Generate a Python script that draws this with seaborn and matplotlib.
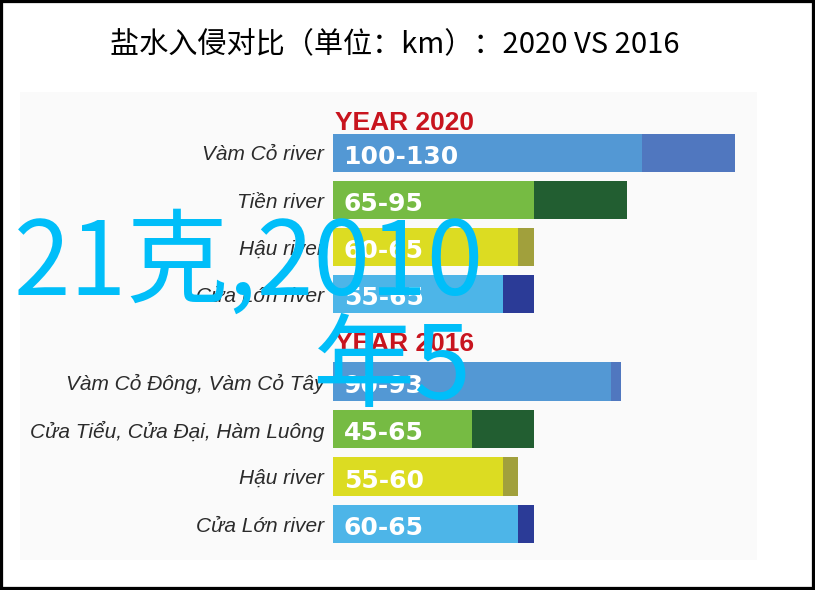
import pandas as pd
import matplotlib.pyplot as plt
import seaborn as sns
from matplotlib.patches import Rectangle

TITLE = "盐水入侵对比（单位：km）：2020 VS 2016"
OVERLAY = ["21克,2010", "年5"]

# salt intrusion range (km), 2020
rivers_2020 = ["Vàm Cỏ river", "Tiền river", "Hậu river", "Cửa Lớn river"]
low_2020 = [100, 65, 60, 55]
high_2020 = [130, 95, 65, 65]

# salt intrusion range (km), 2016
rivers_2016 = ["Vàm Cỏ Đông, Vàm Cỏ Tây", "Cửa Tiểu, Cửa Đại, Hàm Luông",
               "Hậu river", "Cửa Lớn river"]
low_2016 = [90, 45, 55, 60]
high_2016 = [93, 65, 60, 65]

LIGHT = ["#5398d4", "#76bb43", "#dcdc22", "#4db5e8"]
DARK = ["#5077bf", "#225e31", "#a1a03c", "#2b3b97"]
RED = "#c8141e"
CYAN = "#00bef9"

sns.set_theme(style="white")
plt.rcParams["font.family"] = ["Noto Sans CJK SC", "DejaVu Sans"]

W, H = 815, 590
fig = plt.figure(figsize=(W / 100, H / 100), dpi=100)
fig.patch.set_facecolor("white")

# faint photo background + black frame
fig.patches.append(Rectangle((20 / W, 1 - 560 / H), 737 / W, 468 / H,
                             transform=fig.transFigure, facecolor="#fafafa",
                             edgecolor="none", zorder=-5))
fig.patches.append(Rectangle((0, 0), 1, 1, transform=fig.transFigure,
                             facecolor="none", edgecolor="black", lw=4.5, zorder=10))

fig.text(395 / W, 1 - 45 / H, TITLE, ha="center", va="center", fontsize=21,
         fontweight="medium", color="black")

XMAX = 147.6


def panel(ax, rivers, low, high, year, year_y):
    df = pd.DataFrame({"river": rivers, "low": low, "high": high})
    sns.barplot(data=df, x="high", y="river", hue="river", palette=DARK, width=0.81,
                saturation=1, linewidth=0, legend=False, ax=ax)
    sns.barplot(data=df, x="low", y="river", hue="river", palette=LIGHT, width=0.81,
                saturation=1, linewidth=0, legend=False, ax=ax)
    for i, r in enumerate(df.itertuples()):
        ax.annotate(f"{r.low}-{r.high}", xy=(0, i), xytext=(8, -8), textcoords="offset points",
                    ha="left", va="baseline", color="white", fontsize=18,
                    fontweight="bold", family="DejaVu Sans")
    ax.set_xlim(0, XMAX)
    ax.set_ylim(3.5, -0.5)
    ax.set(xlabel="", ylabel="", xticks=[])
    ax.set_facecolor("none")
    ax.tick_params(axis="y", length=0, pad=6, labelsize=15, labelcolor="#2b2b2b")
    for t in ax.get_yticklabels():
        t.set_fontstyle("italic")
        t.set_family(["Liberation Sans", "DejaVu Sans"])
    sns.despine(ax=ax, left=True, bottom=True)
    ax.text(0.005, year_y, f"YEAR {year}", transform=ax.transAxes, ha="left", va="baseline",
            color=RED, fontsize=19, fontweight="bold", family="Liberation Sans")


ax1 = fig.add_axes([332.5 / W, 1 - 317.5 / H, 457.5 / W, 188 / H])
panel(ax1, rivers_2020, low_2020, high_2020, 2020, 0.995)

ax2 = fig.add_axes([332.5 / W, 1 - 547.75 / H, 457.5 / W, 190 / H])
panel(ax2, rivers_2016, low_2016, high_2016, 2016, 1.035)

# cyan watermark text over the chart
fig.text(14 / W, 1 - 295 / H, OVERLAY[0], ha="left", va="baseline", fontsize=73.5,
         color=CYAN, zorder=20)
fig.text(312 / W, 1 - 399 / H, OVERLAY[1], ha="left", va="baseline", fontsize=73.5,
         color=CYAN, zorder=20)

fig.savefig("out.png", dpi=100)
